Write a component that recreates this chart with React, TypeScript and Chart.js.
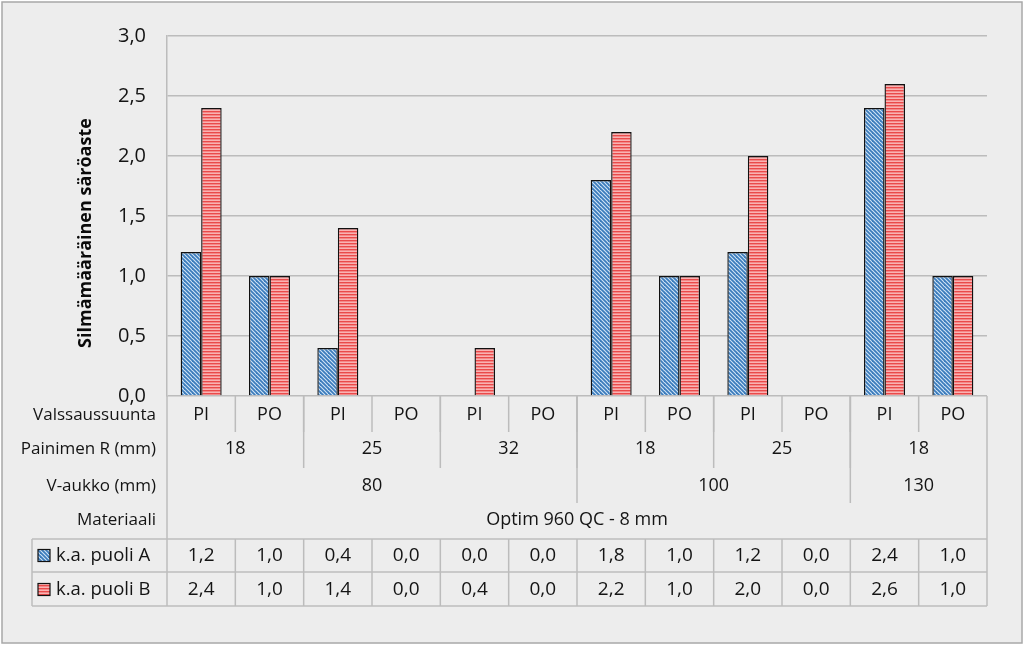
import React, { useEffect, useRef } from "react";
import { Chart, registerables } from "chart.js";

Chart.register(...registerables);

const valssaussuunta = ["PI", "PO", "PI", "PO", "PI", "PO", "PI", "PO", "PI", "PO", "PI", "PO"];
const painimenGroups = [
  { label: "18", from: 0, to: 1 },
  { label: "25", from: 2, to: 3 },
  { label: "32", from: 4, to: 5 },
  { label: "18", from: 6, to: 7 },
  { label: "25", from: 8, to: 9 },
  { label: "18", from: 10, to: 11 },
];
const vAukkoGroups = [
  { label: "80", from: 0, to: 5 },
  { label: "100", from: 6, to: 9 },
  { label: "130", from: 10, to: 11 },
];
const materiaaliGroups = [{ label: "Optim 960 QC - 8 mm", from: 0, to: 11 }];
const levelNames = ["Valssaussuunta", "Painimen R (mm)", "V-aukko (mm)", "Materiaali"];

const seriesNames = ["k.a. puoli A", "k.a. puoli B"];
const puoliA = [1.2, 1.0, 0.4, 0.0, 0.0, 0.0, 1.8, 1.0, 1.2, 0.0, 2.4, 1.0];
const puoliB = [2.4, 1.0, 1.4, 0.0, 0.4, 0.0, 2.2, 1.0, 2.0, 0.0, 2.6, 1.0];
const yTitle = "Silmämääräinen säröaste";

const FONT = "'Open Sans', 'Noto Sans', sans-serif";
const TEXT = "#141414";
const LINE = "#bcbcbc";

function patternA(ctx: CanvasRenderingContext2D) {
  const c = document.createElement("canvas");
  c.width = 8;
  c.height = 8;
  const g = c.getContext("2d")!;
  g.fillStyle = "#d3e6f6";
  g.fillRect(0, 0, 8, 8);
  g.strokeStyle = "#3b7cbc";
  g.lineWidth = 1.8;
  for (let k = -8; k <= 8; k += 4) {
    g.beginPath();
    g.moveTo(k - 2, -2);
    g.lineTo(k + 10, 10);
    g.stroke();
  }
  return ctx.createPattern(c, "repeat")!;
}

function patternB(ctx: CanvasRenderingContext2D) {
  const c = document.createElement("canvas");
  c.width = 4;
  c.height = 3;
  const g = c.getContext("2d")!;
  g.fillStyle = "#f9b2b2";
  g.fillRect(0, 0, 4, 3);
  g.fillStyle = "#ea4a4a";
  g.fillRect(0, 0, 4, 1.4);
  return ctx.createPattern(c, "repeat")!;
}

const fmt = (v: number) => v.toFixed(1).replace(".", ",");

export default function App() {
  const ref = useRef<HTMLCanvasElement | null>(null);

  useEffect(() => {
    const canvas = ref.current!;
    const ctx = canvas.getContext("2d")!;
    const pA = patternA(ctx);
    const pB = patternB(ctx);
    const patterns = [pA, pB];

    const bgPlugin = {
      id: "bg",
      beforeDraw(chart: any) {
        const c = chart.ctx;
        c.save();
        c.fillStyle = "#ffffff";
        c.fillRect(0, 0, chart.width, chart.height);
        c.fillStyle = "#ededed";
        c.fillRect(2, 2, 1020, 641);
        c.strokeStyle = "#a8a8a8";
        c.lineWidth = 1.5;
        c.strokeRect(2, 2, 1020, 641);
        c.restore();
      },
    };

    const tablePlugin = {
      id: "table",
      afterDraw(chart: any) {
        const c: CanvasRenderingContext2D = chart.ctx;
        const area = chart.chartArea;
        const n = valssaussuunta.length;
        const w = (area.right - area.left) / n;
        const bx = (k: number) => area.left + k * w;
        const top = area.bottom;
        const tableTop = 539;
        const rowMid = 572;
        const tableBottom = 606;
        const legendLeft = 32;

        c.save();
        c.strokeStyle = LINE;
        c.lineWidth = 1.5;
        const line = (x1: number, y1: number, x2: number, y2: number) => {
          c.beginPath();
          c.moveTo(x1, y1);
          c.lineTo(x2, y2);
          c.stroke();
        };

        line(area.left, top, area.left, tableBottom);
        line(area.right, top, area.right, tableBottom);
        for (let k = 1; k < n; k++) line(bx(k), top, bx(k), 432);
        painimenGroups.slice(1).forEach((g) => line(bx(g.from), top, bx(g.from), 468));
        vAukkoGroups.slice(1).forEach((g) => line(bx(g.from), top, bx(g.from), 503));
        line(legendLeft, tableTop, area.right, tableTop);
        line(legendLeft, rowMid, area.right, rowMid);
        line(legendLeft, tableBottom, area.right, tableBottom);
        line(legendLeft, tableTop, legendLeft, tableBottom);
        for (let k = 1; k < n; k++) line(bx(k), tableTop, bx(k), tableBottom);

        c.fillStyle = TEXT;
        c.textBaseline = "middle";
        c.font = `17px ${FONT}`;
        const levelY = [415, 449, 486, 520];
        c.textAlign = "right";
        levelNames.forEach((t, i) => c.fillText(t, 156, levelY[i]));

        c.textAlign = "center";
        c.font = `18px ${FONT}`;
        valssaussuunta.forEach((t, i) => c.fillText(t, bx(i) + w / 2, levelY[0]));
        [painimenGroups, vAukkoGroups, materiaaliGroups].forEach((groups, li) => {
          groups.forEach((g) => {
            c.fillText(g.label, (bx(g.from) + bx(g.to + 1)) / 2, levelY[li + 1]);
          });
        });

        const rows = [puoliA, puoliB];
        const rowY = [555.5, 589.5];
        rows.forEach((vals, r) => {
          c.textAlign = "center";
          c.font = `19px ${FONT}`;
          c.fillStyle = TEXT;
          vals.forEach((v, i) => c.fillText(fmt(v), bx(i) + w / 2, rowY[r]));
          c.fillStyle = patterns[r] as any;
          c.fillRect(38, rowY[r] - 6, 12, 12);
          c.strokeStyle = "#111";
          c.lineWidth = 1.2;
          c.strokeRect(38, rowY[r] - 6, 12, 12);
          c.fillStyle = TEXT;
          c.textAlign = "left";
          c.font = `18.5px ${FONT}`;
          c.fillText(seriesNames[r], 56, rowY[r]);
        });

        c.save();
        c.translate(86, 233);
        c.rotate(-Math.PI / 2);
        c.textAlign = "center";
        c.font = `bold 18px ${FONT}`;
        c.fillStyle = "#0a0a0a";
        c.fillText(yTitle, 0, 0);
        c.restore();

        c.restore();
      },
    };

    const chart = new Chart(canvas, {
      type: "bar",
      data: {
        labels: valssaussuunta.map((v, i) => `${v}-${i}`),
        datasets: [
          {
            label: seriesNames[0],
            data: puoliA.map((v) => (v === 0 ? null : v)),
            backgroundColor: pA as any,
            borderColor: "#111111",
            borderWidth: 1.4,
            categoryPercentage: 0.6,
            barPercentage: 1.0,
          },
          {
            label: seriesNames[1],
            data: puoliB.map((v) => (v === 0 ? null : v)),
            backgroundColor: pB as any,
            borderColor: "#111111",
            borderWidth: 1.4,
            categoryPercentage: 0.6,
            barPercentage: 1.0,
          },
        ],
      },
      options: {
        animation: false,
        responsive: false,
        layout: { padding: { left: 107, right: 37, top: 36, bottom: 249 } },
        plugins: {
          legend: { display: false },
          tooltip: { enabled: false },
          title: { display: false },
        },
        scales: {
          x: { display: false },
          y: {
            min: 0,
            max: 3,
            afterFit: (scale: any) => {
              scale.width = 60;
            },
            ticks: {
              stepSize: 0.5,
              padding: 21,
              color: TEXT,
              font: { family: FONT, size: 20 },
              callback: (v: any) => fmt(Number(v)),
            },
            grid: { color: LINE, lineWidth: 1.5, drawTicks: false },
            border: { display: true, color: LINE, width: 1.5 },
          },
        },
      },
      plugins: [bgPlugin, tablePlugin],
    });

    return () => chart.destroy();
  }, []);

  return (
    <div style={{ position: "fixed", left: 0, top: 0, width: 1024, height: 645 }}>
      <canvas ref={ref} width={1024} height={645} style={{ display: "block" }} />
    </div>
  );
}
